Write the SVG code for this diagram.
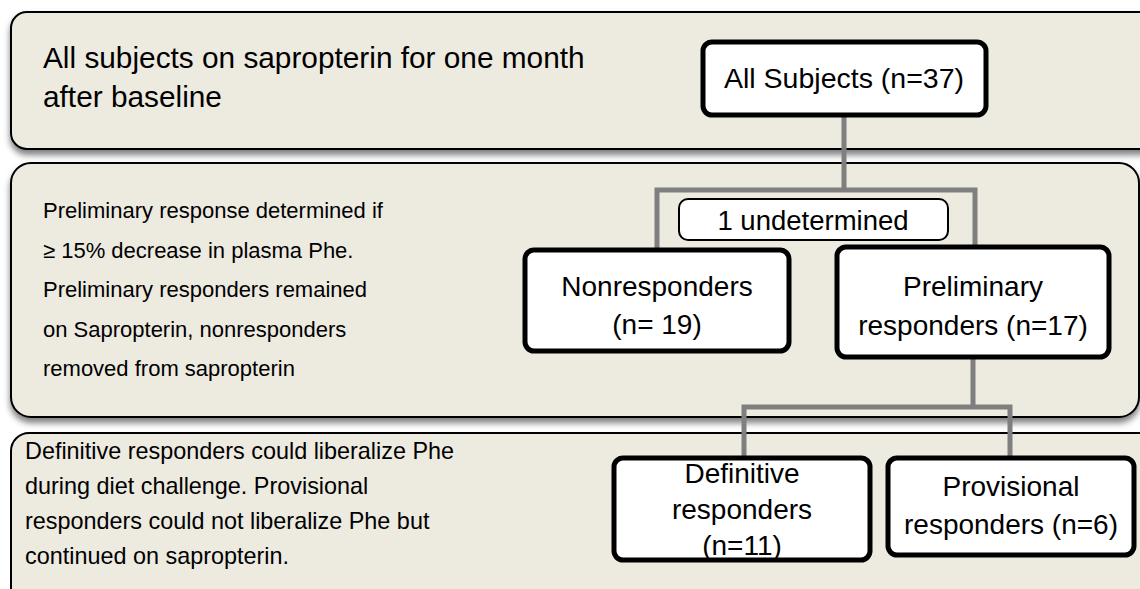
<svg xmlns="http://www.w3.org/2000/svg" width="1140" height="589" viewBox="0 0 1140 589">
  <defs>
    <filter id="shadow" x="-5%" y="-10%" width="110%" height="130%">
      <feDropShadow dx="0" dy="5" stdDeviation="3" flood-color="#000" flood-opacity="0.5"/>
    </filter>
  </defs>
  <style>
    .panel { fill: #EDEAE0; stroke: #000; stroke-width: 2; }
    .node { fill: #fff; stroke: #000; stroke-width: 5; }
    .thin { fill: #fff; stroke: #000; stroke-width: 2; }
    .conn { fill: none; stroke: #7F7F7F; stroke-width: 5; }
    text { font-family: "Liberation Sans", Arial, sans-serif; fill: #000; }
    .p1 { font-size: 29.8px; }
    .p2 { font-size: 22px; }
    .p3 { font-size: 23.4px; }
    .n { font-size: 28px; text-anchor: middle; }
  </style>
  <rect width="1140" height="589" fill="#fff"/>

  <g id="panel-1">
    <rect class="panel" x="11" y="12" width="1160" height="137" rx="16" filter="url(#shadow)"/>
    <text class="p1" x="43" y="68">All subjects on sapropterin for one month</text>
    <text class="p1" x="43" y="107">after baseline</text>
  </g>
  <g id="panel-2">
    <rect class="panel" x="11" y="163" width="1128" height="254" rx="20" filter="url(#shadow)"/>
    <text class="p2" x="43" y="218">Preliminary response determined if</text>
    <text class="p2" x="43" y="258">≥ 15% decrease in plasma Phe.</text>
    <text class="p2" x="43" y="297">Preliminary responders remained</text>
    <text class="p2" x="43" y="337">on Sapropterin, nonresponders</text>
    <text class="p2" x="43" y="376">removed from sapropterin</text>
  </g>
  <g id="panel-3">
    <rect class="panel" x="11" y="433" width="1160" height="200" rx="18"/>
    <text class="p3" x="25" y="459">Definitive responders could liberalize Phe</text>
    <text class="p3" x="25" y="494">during diet challenge. Provisional</text>
    <text class="p3" x="25" y="529">responders could not liberalize Phe but</text>
    <text class="p3" x="25" y="564">continued on sapropterin.</text>
  </g>

  <g id="connectors">
    <path class="conn" d="M844 116 V190"/>
    <path class="conn" d="M657 249 V190 H975 V246"/>
    <path class="conn" d="M973 358 V407"/>
    <path class="conn" d="M744 458 V407 H1010 V458"/>
  </g>

  <g id="all-subjects">
    <rect class="node" x="703" y="42" width="283" height="73" rx="9"/>
    <text class="n" x="844" y="88" style="font-size:28.5px">All Subjects (n=37)</text>
  </g>
  <g id="undetermined">
    <rect class="thin" x="679" y="199" width="269" height="41" rx="9"/>
    <text class="n" x="813" y="230" style="font-size:27.5px">1 undetermined</text>
  </g>
  <g id="nonresponders">
    <rect class="node" x="525" y="250" width="264" height="101" rx="9"/>
    <text class="n" x="657" y="296">Nonresponders</text>
    <text class="n" x="657" y="334">(n= 19)</text>
  </g>
  <g id="preliminary">
    <rect class="node" x="837" y="247" width="272" height="110" rx="9"/>
    <text class="n" x="973" y="296">Preliminary</text>
    <text class="n" x="973" y="335">responders (n=17)</text>
  </g>
  <g id="definitive">
    <rect class="node" x="614" y="458" width="256" height="102" rx="9"/>
    <text class="n" x="742" y="483">Definitive</text>
    <text class="n" x="742" y="519">responders</text>
    <text class="n" x="742" y="555">(n=11)</text>
  </g>
  <g id="provisional">
    <rect class="node" x="888" y="458" width="246" height="97" rx="9"/>
    <text class="n" x="1011" y="496">Provisional</text>
    <text class="n" x="1011" y="534">responders (n=6)</text>
  </g>
</svg>
